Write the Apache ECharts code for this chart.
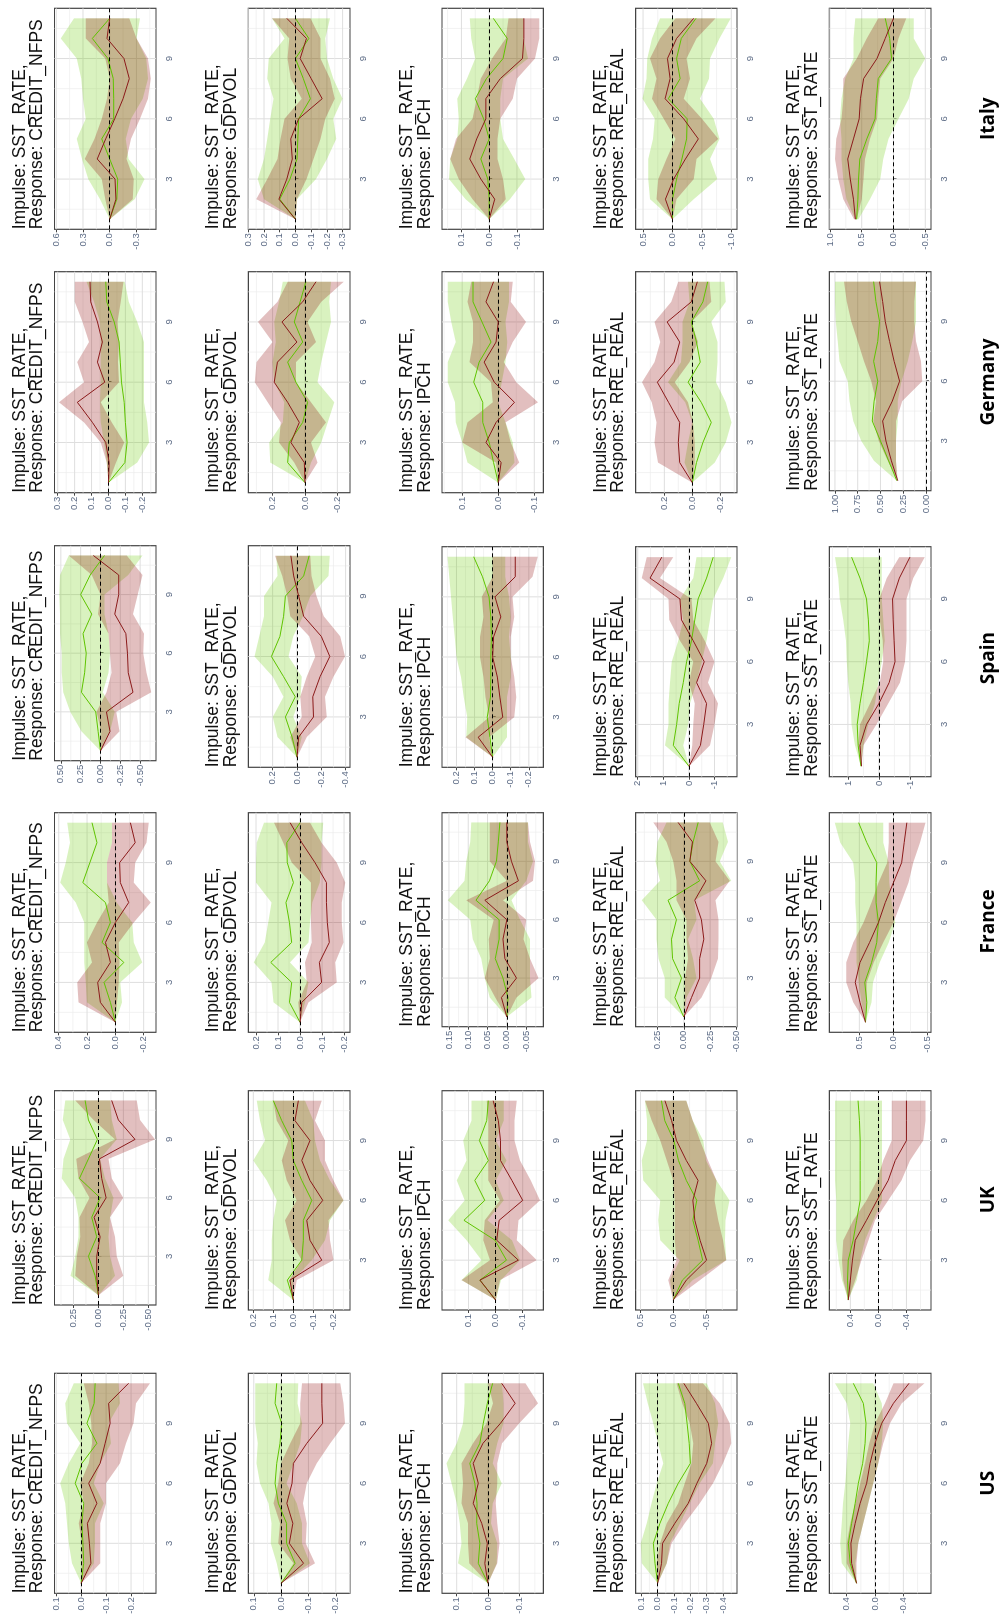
<!DOCTYPE html>
<html>
<head>
<meta charset="utf-8">
<script src="https://cdn.jsdelivr.net/npm/echarts@6.0.0/dist/echarts.min.js"></script>
<style>
  html, body { margin: 0; padding: 0; background: #fff; overflow: hidden; width: 1001px; height: 1624px; }
  /* the figure is drawn landscape and turned a quarter turn, like the scanned original */
  #chart { position: absolute; left: 0; top: 0; width: 1624px; height: 1001px;
           transform-origin: 0 0; transform: translate(0, 1624px) rotate(-90deg); }
</style>
</head>
<body>
<div id="chart"></div>
<script>
// horizons and labels
const steps = [1, 2, 3, 4, 5, 6, 7, 8, 9, 10, 11];
const stepTicks = [3, 6, 9];
const countries = ['US', 'UK', 'France', 'Spain', 'Germany', 'Italy'];
const responses = ['CREDIT_NFPS', 'GDPVOL', 'IPCH', 'RRE_REAL', 'SST_RATE'];

// rows: CREDIT_NFPS, GDPVOL, IPCH, RRE_REAL, SST_RATE
const usGreen = [
  [0, -0.01, -0.007, -0.003, -0.01, 0.024, -0.003, -0.063, -0.023, -0.052, -0.056],
  [0, -0.051, -0.02, -0.02, 0.01, 0.022, 0.016, 0.004, -0.002, 0.022, 0.016],
  [0, 0.031, 0.026, 0.036, 0.035, 0.042, 0.058, 0.026, 0.015, 0.002, -0.015],
  [0, 0.016, 0.026, -0.014, -0.065, -0.126, -0.2, -0.193, -0.18, -0.166, -0.126],
  [0.26, 0.35, 0.376, 0.33, 0.28, 0.235, 0.174, 0.14, 0.127, 0.165, 0.306]
];
const usGreenLo = [
  [0, -0.05, -0.055, -0.055, -0.09, -0.05, -0.076, -0.12, -0.11, -0.156, -0.15],
  [0, -0.106, -0.076, -0.076, -0.057, -0.02, -0.045, -0.07, -0.076, -0.06, -0.063],
  [0, -0.028, -0.03, -0.01, -0.015, -0.044, -0.015, -0.03, -0.05, -0.05, -0.045],
  [0, -0.055, -0.075, -0.136, -0.197, -0.258, -0.339, -0.35, -0.37, -0.35, -0.3],
  [0.26, 0.28, 0.235, 0.165, 0.094, 0.024, -0.047, -0.094, -0.118, -0.094, 0.024]
];
const usGreenHi = [
  [0, 0.037, 0.05, 0.057, 0.064, 0.084, 0.05, 0.004, 0.057, 0.064, 0.03],
  [0, 0.016, 0.038, 0.035, 0.046, 0.077, 0.09, 0.085, 0.095, 0.095, 0.095],
  [0, 0.096, 0.085, 0.09, 0.1, 0.117, 0.133, 0.1, 0.08, 0.075, 0.075],
  [0, 0.097, 0.103, 0.067, 0.037, 0.006, -0.034, -0.003, 0.026, 0.06, 0.09],
  [0.26, 0.47, 0.49, 0.47, 0.45, 0.42, 0.4, 0.376, 0.35, 0.4, 0.565]
];
const usRed = [
  [0, -0.039, -0.033, -0.025, -0.063, -0.03, -0.076, -0.096, -0.116, -0.11, -0.19],
  [0, -0.082, -0.03, -0.043, -0.021, -0.04, -0.045, -0.094, -0.152, -0.149, -0.149],
  [0, 0.01, 0.002, 0.02, 0.047, 0.031, 0.047, 0.016, -0.04, -0.087, -0.044],
  [0, -0.024, -0.03, -0.105, -0.187, -0.24, -0.3, -0.33, -0.31, -0.237, -0.16],
  [0.26, 0.33, 0.34, 0.28, 0.21, 0.118, 0.07, 0.0, -0.094, -0.26, -0.48]
];
const usRedLo = [
  [0, -0.076, -0.076, -0.076, -0.1, -0.1, -0.156, -0.18, -0.21, -0.22, -0.276],
  [0, -0.124, -0.09, -0.094, -0.08, -0.094, -0.13, -0.18, -0.234, -0.228, -0.216],
  [0, -0.03, -0.037, -0.03, -0.025, -0.03, -0.03, -0.045, -0.1, -0.16, -0.12],
  [0, -0.055, -0.085, -0.166, -0.258, -0.339, -0.4, -0.45, -0.44, -0.38, -0.278],
  [0.26, 0.26, 0.235, 0.165, 0.094, 0.024, -0.047, -0.118, -0.21, -0.376, -0.7]
];
const usRedHi = [
  [0, -0.003, -0.003, 0.01, -0.01, 0.004, -0.03, -0.043, -0.04, -0.03, -0.01],
  [0, -0.045, 0.01, 0.004, 0.028, 0.01, 0.0, -0.033, -0.07, -0.07, -0.076],
  [0, 0.06, 0.064, 0.064, 0.085, 0.08, 0.085, 0.048, 0.005, -0.016, 0.0],
  [0, 0.006, -0.014, -0.055, -0.126, -0.166, -0.207, -0.217, -0.197, -0.15, -0.116],
  [0.26, 0.4, 0.4, 0.35, 0.28, 0.21, 0.14, 0.08, 0.0, -0.14, -0.26]
];

const ukGreen = [
  [0, 0.033, 0.1, 0.017, 0.067, -0.017, 0.19, 0.1, 0.01, 0.1, 0.133],
  [0, 0.03, -0.042, -0.05, -0.05, -0.092, -0.042, 0.0, 0.008, 0.058, 0.1],
  [0, 0.058, -0.04, 0.002, 0.117, 0.04, 0.077, 0.027, 0.06, 0.033, 0.027],
  [0, -0.14, -0.45, -0.38, -0.3, -0.36, -0.2, -0.08, -0.01, 0.13, 0.18],
  [0.43, 0.44, 0.43, 0.36, 0.31, 0.26, 0.26, 0.26, 0.26, 0.27, 0.29]
];
const ukGreenLo = [
  [0, -0.167, -0.117, -0.1, -0.117, -0.15, -0.067, -0.017, -0.183, -0.133, -0.117],
  [0, 0.0, -0.092, -0.158, -0.183, -0.25, -0.183, -0.133, -0.108, -0.1, -0.058],
  [0, -0.02, -0.09, -0.06, 0.03, -0.03, 0.0, -0.04, 0.0, -0.03, -0.03],
  [0, -0.3, -0.81, -0.79, -0.8, -0.86, -0.66, -0.5, -0.46, -0.3, -0.2],
  [0.43, 0.31, 0.26, 0.19, 0.07, -0.05, -0.05, -0.05, -0.05, -0.05, -0.05]
];
const ukGreenHi = [
  [0, 0.28, 0.233, 0.2, 0.2, 0.233, 0.367, 0.35, 0.283, 0.357, 0.333],
  [0, 0.125, 0.108, 0.108, 0.1, 0.083, 0.133, 0.2, 0.142, 0.167, 0.183],
  [0, 0.126, 0.052, 0.108, 0.175, 0.114, 0.144, 0.108, 0.12, 0.089, 0.089],
  [0, 0.05, -0.1, 0.2, 0.23, 0.2, 0.46, 0.48, 0.4, 0.4, 0.43],
  [0.43, 0.52, 0.57, 0.6, 0.6, 0.6, 0.62, 0.62, 0.62, 0.62, 0.62]
];
const ukRed = [
  [0, 0.017, 0.017, -0.017, 0.043, -0.077, -0.033, -0.01, -0.367, -0.2, -0.133],
  [0, 0.017, -0.142, -0.083, -0.067, -0.147, -0.083, -0.042, -0.083, -0.008, -0.025],
  [0, 0.058, -0.084, -0.004, -0.013, -0.1, -0.06, -0.018, -0.018, -0.01, 0.009],
  [0, -0.2, -0.51, -0.41, -0.33, -0.3, -0.38, -0.2, -0.05, 0.025, 0.127],
  [0.43, 0.4, 0.37, 0.33, 0.17, 0.02, -0.14, -0.24, -0.4, -0.4, -0.4]
];
const ukRedLo = [
  [0, -0.25, -0.183, -0.167, -0.117, -0.25, -0.133, -0.1, -0.567, -0.417, -0.383],
  [0, -0.017, -0.2, -0.183, -0.175, -0.25, -0.2, -0.158, -0.158, -0.108, -0.142],
  [0, -0.016, -0.152, -0.078, -0.084, -0.164, -0.13, -0.09, -0.07, -0.07, -0.078],
  [0, -0.41, -0.81, -0.76, -0.69, -0.63, -0.66, -0.53, -0.41, -0.3, -0.2],
  [0.43, 0.33, 0.24, 0.14, 0.05, -0.14, -0.33, -0.45, -0.64, -0.67, -0.67]
];
const ukRedHi = [
  [0, 0.233, 0.217, 0.183, 0.19, 0.09, 0.2, 0.223, -0.167, 0.05, 0.233],
  [0, 0.02, -0.042, 0.017, 0.042, -0.017, 0.033, 0.058, 0.025, 0.083, 0.1],
  [0, 0.126, 0.021, 0.046, 0.04, -0.016, 0.027, 0.027, 0.027, 0.027, 0.033],
  [0, 0.076, -0.05, -0.025, -0.025, -0.025, 0.0, 0.1, 0.2, 0.33, 0.43],
  [0.43, 0.5, 0.52, 0.5, 0.36, 0.17, 0.02, -0.07, -0.19, -0.19, -0.19]
];

const franceGreen = [
  [0, 0.035, 0.08, -0.06, 0.094, 0.035, 0.07, 0.23, 0.18, 0.13, 0.165],
  [0, 0.048, 0.038, 0.133, 0.038, 0.048, 0.064, 0.03, 0.058, 0.06, 0.0],
  [0, -0.003, 0.01, 0.03, 0.02, 0.02, 0.08, 0.045, 0.027, 0.022, 0.018],
  [0, 0.085, 0.022, 0.107, 0.117, 0.07, 0.15, -0.15, -0.057, -0.088, -0.136],
  [0.41, 0.39, 0.42, 0.32, 0.245, 0.22, 0.255, 0.255, 0.245, 0.39, 0.51]
];
const franceGreenLo = [
  [0, -0.047, -0.035, -0.19, -0.13, -0.12, -0.01, 0.06, 0.06, 0.024, 0.024],
  [0, -0.023, -0.038, 0.045, -0.038, -0.045, -0.055, -0.09, -0.098, -0.098, -0.106],
  [0, -0.064, -0.06, -0.06, -0.06, -0.034, -0.012, -0.05, -0.068, -0.055, -0.055],
  [0, -0.025, -0.12, -0.088, -0.04, -0.12, -0.1, -0.45, -0.34, -0.42, -0.37],
  [0.41, 0.32, 0.3, 0.2, 0.07, -0.025, 0.025, 0.06, 0.07, 0.15, 0.15]
];
const franceGreenHi = [
  [0, 0.2, 0.21, 0.22, 0.22, 0.22, 0.28, 0.39, 0.35, 0.32, 0.34],
  [0, 0.12, 0.13, 0.21, 0.16, 0.144, 0.13, 0.2, 0.2, 0.197, 0.164],
  [0, 0.044, 0.057, 0.066, 0.088, 0.095, 0.153, 0.11, 0.105, 0.095, 0.092],
  [0, 0.18, 0.18, 0.24, 0.26, 0.26, 0.4, 0.227, 0.27, 0.25, 0.164],
  [0.41, 0.47, 0.51, 0.54, 0.54, 0.54, 0.56, 0.56, 0.59, 0.78, 0.86]
];
const franceRed = [
  [0, 0.106, 0.125, 0.035, 0.07, 0.0, -0.094, -0.035, -0.03, -0.14, -0.106],
  [0, -0.008, -0.098, -0.088, -0.133, -0.124, -0.12, -0.12, -0.068, -0.008, 0.045],
  [0, 0.014, -0.025, 0.005, 0.01, 0.0, 0.057, -0.03, -0.012, 0.0, 0.0],
  [0, -0.073, -0.15, -0.15, -0.19, -0.167, -0.104, -0.21, -0.057, -0.082, 0.054],
  [0.41, 0.49, 0.56, 0.49, 0.35, 0.22, 0.12, 0.0, -0.12, -0.157, -0.196]
];
const franceRedLo = [
  [0, -0.012, -0.024, -0.03, -0.024, -0.13, -0.25, -0.13, -0.14, -0.22, -0.235],
  [0, -0.038, -0.167, -0.16, -0.197, -0.19, -0.19, -0.205, -0.167, -0.098, -0.045],
  [0, -0.025, -0.082, -0.06, -0.043, -0.05, 0.01, -0.068, -0.073, -0.06, -0.055],
  [0, -0.167, -0.26, -0.325, -0.33, -0.33, -0.3, -0.435, -0.3, -0.33, -0.246],
  [0.41, 0.39, 0.39, 0.29, 0.15, 0.0, -0.11, -0.22, -0.29, -0.39, -0.47]
];
const franceRedHi = [
  [0, 0.26, 0.27, 0.165, 0.2, 0.13, 0.047, 0.06, 0.06, 0.024, 0.024],
  [0, 0.008, -0.03, -0.023, -0.053, -0.05, -0.05, -0.05, 0.038, 0.076, 0.118],
  [0, 0.03, 0.057, 0.044, 0.047, 0.034, 0.105, 0.0, 0.044, 0.044, 0.044],
  [0, -0.01, -0.01, -0.04, -0.025, -0.025, 0.07, 0.07, 0.1, 0.164, 0.29],
  [0.41, 0.59, 0.69, 0.69, 0.59, 0.44, 0.32, 0.22, 0.09, 0.07, 0.07]
];

const spainGreen = [
  [0, 0.03, 0.06, 0.24, 0.2, 0.18, 0.22, 0.11, 0.25, 0.13, -0.05],
  [0, 0.04, 0.095, 0.014, 0.11, 0.21, 0.14, 0.11, 0.095, -0.055, -0.1],
  [0, 0.015, 0.03, 0.012, 0.01, 0.01, 0.007, 0.01, 0.02, 0.056, 0.105],
  [0, 0.61, 0.48, 0.38, 0.22, 0.09, -0.1, -0.23, -0.36, -0.69, -0.95],
  [0.58, 0.67, 0.7, 0.61, 0.5, 0.4, 0.31, 0.34, 0.4, 0.61, 0.88]
];
const spainGreenLo = [
  [0, -0.12, -0.18, -0.03, -0.1, -0.12, -0.1, -0.05, -0.05, -0.35, -0.53],
  [0, -0.04, 0.03, -0.03, -0.04, 0.07, 0.03, -0.05, -0.11, -0.26, -0.27],
  [0, -0.08, -0.08, -0.08, -0.1, -0.1, -0.09, -0.1, -0.09, -0.07, -0.07],
  [0, 0.22, 0.03, -0.04, -0.3, -0.5, -0.69, -0.82, -0.95, -1.34, -1.66],
  [0.58, 0.5, 0.34, 0.13, 0.02, -0.09, -0.19, -0.14, -0.09, -0.09, -0.09]
];
const spainGreenHi = [
  [0, 0.24, 0.38, 0.47, 0.49, 0.49, 0.51, 0.51, 0.52, 0.51, 0.4],
  [0, 0.16, 0.2, 0.11, 0.2, 0.35, 0.31, 0.27, 0.27, 0.16, 0.17],
  [0, 0.146, 0.14, 0.16, 0.175, 0.2, 0.21, 0.22, 0.23, 0.24, 0.25],
  [0, 0.93, 0.8, 0.8, 0.74, 0.67, 0.42, 0.22, 0.35, -0.17, -0.3],
  [0.58, 0.77, 0.88, 0.91, 0.99, 1.04, 1.06, 1.15, 1.26, 1.31, 1.42]
];
const spainRed = [
  [0, -0.12, -0.075, -0.41, -0.35, -0.34, -0.32, -0.18, -0.23, -0.23, 0.09],
  [0, -0.014, -0.136, -0.13, -0.19, -0.27, -0.2, -0.055, -0.014, 0.027, 0.05],
  [0, 0.08, -0.056, -0.04, -0.026, 0.0, -0.005, -0.045, -0.013, -0.125, -0.125],
  [0, -0.45, -0.58, -0.69, -0.3, -0.6, -0.17, 0.29, 0.35, 1.52, 1.06],
  [0.56, 0.61, 0.4, 0.0, -0.33, -0.52, -0.49, -0.46, -0.44, -0.66, -1.0]
];
const spainRedLo = [
  [0, -0.24, -0.2, -0.64, -0.58, -0.54, -0.55, -0.41, -0.47, -0.53, -0.33],
  [0, -0.08, -0.245, -0.23, -0.3, -0.395, -0.355, -0.22, -0.16, -0.12, -0.11],
  [0, 0.02, -0.12, -0.13, -0.12, -0.1, -0.1, -0.12, -0.11, -0.22, -0.25],
  [0, -0.82, -1.0, -1.14, -0.75, -1.0, -0.62, -0.17, -0.1, 1.13, 0.61],
  [0.56, 0.5, 0.08, -0.3, -0.68, -0.84, -0.89, -0.89, -0.89, -1.11, -1.48]
];
const spainRedHi = [
  [0, -0.01, 0.05, -0.075, -0.14, -0.12, -0.1, 0.03, 0.0, 0.11, 0.4],
  [0, 0.055, -0.04, -0.027, -0.08, -0.15, -0.1, 0.055, 0.08, 0.12, 0.18],
  [0, 0.15, 0.02, 0.04, 0.05, 0.07, 0.07, 0.05, 0.06, 0.0, 0.0],
  [0, -0.13, -0.17, -0.23, 0.0, -0.17, 0.35, 0.77, 0.8, 1.84, 1.65],
  [0.56, 0.67, 0.61, 0.29, -0.03, -0.14, -0.12, -0.03, -0.01, -0.25, -0.66]
];

const germanyGreen = [
  [0, -0.097, -0.11, -0.1, -0.093, -0.077, -0.07, -0.063, -0.034, 0.01, 0.016],
  [0, 0.107, 0.097, 0.014, -0.016, 0.056, 0.107, 0.014, 0.066, 0.03, -0.006],
  [0, 0.013, 0.025, 0.043, 0.043, 0.068, 0.053, 0.02, 0.045, 0.07, 0.07],
  [0, -0.03, -0.076, -0.136, -0.064, 0.03, -0.057, -0.03, 0.007, -0.076, -0.11],
  [0.32, 0.41, 0.5, 0.59, 0.57, 0.53, 0.575, 0.53, 0.51, 0.55, 0.575]
];
const germanyGreenLo = [
  [0, -0.17, -0.24, -0.23, -0.21, -0.21, -0.21, -0.21, -0.17, -0.12, -0.097],
  [0, -0.037, -0.1, -0.14, -0.18, -0.078, -0.1, -0.13, -0.16, -0.15, -0.16],
  [0, -0.045, -0.04, -0.02, 0.0, -0.01, -0.02, -0.025, -0.02, -0.03, -0.03],
  [0, -0.16, -0.24, -0.28, -0.24, -0.17, -0.18, -0.18, -0.136, -0.24, -0.23],
  [0.32, 0.33, 0.33, 0.31, 0.31, 0.27, 0.2, 0.15, 0.11, 0.11, 0.11]
];
const germanyGreenHi = [
  [0, 0.01, 0.026, 0.045, 0.05, 0.045, 0.045, 0.045, 0.05, 0.085, 0.13],
  [0, 0.214, 0.22, 0.138, 0.128, 0.19, 0.2, 0.18, 0.19, 0.16, 0.138],
  [0, 0.085, 0.1, 0.118, 0.12, 0.14, 0.14, 0.118, 0.13, 0.14, 0.14],
  [0, 0.055, 0.03, 0.0, 0.05, 0.174, 0.08, 0.07, 0.07, 0.02, 0.03],
  [0.32, 0.57, 0.71, 0.8, 0.84, 0.86, 0.95, 0.97, 0.99, 1.0, 1.0]
];
const germanyRed = [
  [0, -0.004, 0.016, 0.095, 0.184, 0.022, 0.065, 0.036, 0.065, 0.105, 0.109],
  [0, 0.004, 0.087, 0.035, 0.107, 0.19, 0.17, 0.05, 0.142, 0.014, -0.068],
  [0, -0.008, 0.034, 0.006, -0.045, 0.011, 0.039, 0.006, 0.0, 0.034, 0.013],
  [0, 0.09, 0.1, 0.09, 0.17, 0.25, 0.13, 0.09, 0.18, 0.007, -0.036],
  [0.31, 0.38, 0.44, 0.476, 0.37, 0.29, 0.35, 0.4, 0.447, 0.476, 0.51]
];
const germanyRedLo = [
  [0, -0.045, -0.093, -0.02, 0.045, -0.063, -0.057, -0.063, -0.053, -0.073, -0.089],
  [0, -0.078, -0.037, -0.13, -0.037, 0.056, 0.056, -0.068, -0.016, -0.1, -0.24],
  [0, -0.058, -0.035, -0.02, -0.11, -0.05, -0.015, -0.04, -0.077, -0.035, -0.04],
  [0, -0.017, -0.017, -0.005, 0.03, 0.126, 0.02, -0.04, 0.007, -0.136, -0.124],
  [0.31, 0.33, 0.33, 0.33, 0.26, 0.04, 0.055, 0.11, 0.13, 0.13, 0.11]
];
const germanyRedHi = [
  [0, 0.01, 0.045, 0.145, 0.293, 0.145, 0.184, 0.115, 0.154, 0.2, 0.2],
  [0, 0.066, 0.16, 0.15, 0.23, 0.31, 0.3, 0.2, 0.29, 0.17, 0.107],
  [0, 0.006, 0.1, 0.085, 0.015, 0.02, 0.08, 0.07, 0.07, 0.085, 0.075],
  [0, 0.245, 0.27, 0.257, 0.29, 0.36, 0.27, 0.23, 0.27, 0.15, 0.1],
  [0.31, 0.42, 0.52, 0.58, 0.55, 0.6, 0.68, 0.75, 0.82, 0.87, 0.9]
];

const italyGreen = [
  [0, -0.08, -0.09, 0.0, 0.09, -0.045, -0.045, -0.04, 0.02, 0.195, 0.0],
  [0, 0.1, 0.035, -0.01, -0.015, -0.02, -0.095, -0.05, 0.0, -0.085, 0.0],
  [0, 0.0, 0.005, 0.03, 0.0, 0.02, 0.05, 0.01, -0.05, -0.065, -0.015],
  [0, 0.0, -0.07, -0.16, -0.24, -0.25, 0.07, -0.13, -0.07, -0.15, -0.4],
  [0.58, 0.56, 0.55, 0.53, 0.42, 0.29, 0.27, 0.24, 0.03, 0.06, 0.13]
];
const italyGreenLo = [
  [0, -0.28, -0.39, -0.21, -0.18, -0.24, -0.37, -0.43, -0.41, -0.3, -0.34],
  [0, -0.01, -0.13, -0.2, -0.26, -0.24, -0.3, -0.24, -0.2, -0.19, -0.22],
  [0, -0.075, -0.13, -0.09, -0.05, -0.04, -0.04, -0.05, -0.14, -0.125, -0.125],
  [0, -0.36, -0.76, -0.64, -0.8, -0.7, -0.47, -0.62, -0.64, -0.8, -0.99],
  [0.55, 0.37, 0.21, 0.16, 0.08, -0.08, -0.24, -0.32, -0.5, -0.32, -0.32]
];
const italyGreenHi = [
  [0, 0.11, 0.24, 0.31, 0.37, 0.27, 0.3, 0.32, 0.37, 0.55, 0.4],
  [0, 0.2, 0.24, 0.2, 0.18, 0.16, 0.14, 0.18, 0.17, 0.07, 0.15],
  [0, 0.085, 0.145, 0.14, 0.115, 0.11, 0.115, 0.08, 0.05, 0.065, 0.07],
  [0, 0.38, 0.41, 0.41, 0.33, 0.3, 0.51, 0.44, 0.43, 0.35, 0.21],
  [0.6, 0.74, 0.79, 0.82, 0.82, 0.84, 0.82, 0.76, 0.63, 0.63, 0.6]
];
const italyRed = [
  [0, -0.07, -0.06, 0.14, 0.045, -0.056, -0.15, -0.22, -0.16, 0.03, 0.0],
  [0, 0.105, 0.055, 0.02, 0.03, -0.02, -0.17, -0.1, -0.03, -0.07, 0.055],
  [0, -0.02, 0.03, 0.07, 0.045, 0.012, 0.012, -0.04, -0.12, -0.125, -0.125],
  [0, 0.12, -0.02, -0.22, -0.44, -0.19, 0.125, 0.04, 0.085, -0.07, -0.36],
  [0.6, 0.63, 0.68, 0.72, 0.63, 0.54, 0.52, 0.47, 0.26, 0.13, 0.0]
];
const italyRedLo = [
  [0, -0.26, -0.27, -0.19, -0.24, -0.34, -0.43, -0.46, -0.43, -0.3, -0.22],
  [0, -0.01, -0.07, -0.115, -0.16, -0.19, -0.25, -0.22, -0.16, -0.16, -0.095],
  [0, -0.06, -0.05, -0.03, -0.03, -0.04, -0.085, -0.1, -0.165, -0.18, -0.18],
  [0, -0.07, -0.36, -0.41, -0.78, -0.5, -0.19, -0.3, -0.24, -0.41, -0.73],
  [0.58, 0.5, 0.47, 0.45, 0.37, 0.26, 0.24, 0.21, 0.0, -0.08, -0.2]
];
const italyRedHi = [
  [0, 0.05, 0.09, 0.28, 0.17, 0.09, 0.03, 0.0, 0.05, 0.27, 0.27],
  [0, 0.25, 0.18, 0.115, 0.095, 0.07, -0.04, 0.03, 0.05, 0.04, 0.15],
  [0, 0.06, 0.11, 0.14, 0.12, 0.06, 0.045, 0.03, -0.01, -0.06, -0.07],
  [0, 0.27, 0.24, 0.1, -0.05, 0.15, 0.35, 0.27, 0.38, 0.21, -0.05],
  [0.62, 0.79, 0.87, 0.92, 0.9, 0.82, 0.79, 0.79, 0.58, 0.42, 0.24]
];

// value axis of each panel: [min, max], tick values, decimals on the labels
const axisRange = [
  [[-0.3, 0.107], [-0.252, 0.12], [-0.177, 0.147], [-0.485, 0.134], [-0.79, 0.645]],
  [[-0.577, 0.44], [-0.283, 0.225], [-0.176, 0.198], [-0.975, 0.574], [-0.75, 0.7]],
  [[-0.287, 0.43], [-0.227, 0.235], [-0.0945, 0.168], [-0.505, 0.457], [-0.55, 0.94]],
  [[-0.7, 0.58], [-0.436, 0.4], [-0.28, 0.28], [-1.88, 2.08], [-1.68, 1.6]],
  [[-0.281, 0.319], [-0.278, 0.35], [-0.125, 0.156], [-0.32, 0.405], [-0.055, 1.062]],
  [[-0.52, 0.62], [-0.347, 0.3], [-0.195, 0.17], [-1.097, 0.625], [-0.59, 1.01]]
];
const axisTicks = [
  [[-0.2, -0.1, 0, 0.1], [-0.2, -0.1, 0, 0.1], [-0.1, 0, 0.1], [-0.4, -0.3, -0.2, -0.1, 0, 0.1], [-0.4, 0, 0.4]],
  [[-0.5, -0.25, 0, 0.25], [-0.2, -0.1, 0, 0.1, 0.2], [-0.1, 0, 0.1], [-0.5, 0, 0.5], [-0.4, 0, 0.4]],
  [[-0.2, 0, 0.2, 0.4], [-0.2, -0.1, 0, 0.1, 0.2], [-0.05, 0, 0.05, 0.1, 0.15], [-0.5, -0.25, 0, 0.25], [-0.5, 0, 0.5]],
  [[-0.5, -0.25, 0, 0.25, 0.5], [-0.4, -0.2, 0, 0.2], [-0.2, -0.1, 0, 0.1, 0.2], [-1, 0, 1, 2], [-1, 0, 1]],
  [[-0.2, -0.1, 0, 0.1, 0.2, 0.3], [-0.2, 0, 0.2], [-0.1, 0, 0.1], [-0.2, 0, 0.2], [0, 0.25, 0.5, 0.75, 1]],
  [[-0.3, 0, 0.3, 0.6], [-0.3, -0.2, -0.1, 0, 0.1, 0.2, 0.3], [-0.1, 0, 0.1], [-1, -0.5, 0, 0.5], [-0.5, 0, 0.5, 1]]
];
const axisDigits = [
  [1, 1, 1, 1, 1],
  [2, 1, 1, 1, 1],
  [1, 1, 2, 2, 1],
  [2, 1, 1, 0, 0],
  [1, 1, 1, 1, 2],
  [1, 1, 1, 1, 1]
];

// ---- layout (landscape figure, before the quarter turn) ----
const panelLeft = [
  [30.7, 30.7, 30.7, 30.7, 30.7],
  [319, 314, 314, 314, 314],
  [591.7, 591.7, 597.3, 597.3, 591.7],
  [863.3, 856.7, 856.7, 847.3, 847.3],
  [1131.3, 1131.3, 1131.3, 1131.3, 1133.3],
  [1394.7, 1394.7, 1394.7, 1394.7, 1394.7]
];
const panelWidth = [
  [220, 220, 220, 220, 220],
  [214.3, 219.3, 219.3, 219.3, 219.3],
  [219.6, 219.6, 214, 214, 219.6],
  [215, 221.6, 220.6, 230, 230],
  [221, 221, 221, 221, 219],
  [221, 221, 221, 221, 221]
];
const panelTop = [54.5, 248.3, 442, 635.7, 829.3];
const panelHeight = [101.5, 101.7, 101.3, 101.3, 101.7];

const GREEN = '#5fc400';
const RED = '#8b1a1a';
const GREEN_FILL = 'rgba(102,205,0,0.25)';
const RED_FILL = 'rgba(139,0,0,0.25)';
const TICK_TEXT = '#5d6c86';
const FONT = '"Liberation Sans", Arial, sans-serif';

const bySeries = {
  US: [usGreen, usGreenLo, usGreenHi, usRed, usRedLo, usRedHi],
  UK: [ukGreen, ukGreenLo, ukGreenHi, ukRed, ukRedLo, ukRedHi],
  France: [franceGreen, franceGreenLo, franceGreenHi, franceRed, franceRedLo, franceRedHi],
  Spain: [spainGreen, spainGreenLo, spainGreenHi, spainRed, spainRedLo, spainRedHi],
  Germany: [germanyGreen, germanyGreenLo, germanyGreenHi, germanyRed, germanyRedLo, germanyRedHi],
  Italy: [italyGreen, italyGreenLo, italyGreenHi, italyRed, italyRedLo, italyRedHi]
};

function pairs(vals) {
  return steps.map((t, i) => [t, vals[i]]);
}

function bandSeries(gi, lo, hi, fill, z) {
  return {
    type: 'custom', xAxisIndex: gi, yAxisIndex: gi, z: z, silent: true,
    data: [[steps[0], lo[0]]],
    renderItem: (params, api) => {
      const pts = [];
      for (let i = 0; i < steps.length; i++) pts.push(api.coord([steps[i], hi[i]]));
      for (let i = steps.length - 1; i >= 0; i--) pts.push(api.coord([steps[i], lo[i]]));
      return { type: 'polygon', shape: { points: pts }, style: { fill: fill } };
    }
  };
}

function gridLineSeries(gi, ticks, range) {
  // [direction (0 = time, 1 = value), position, major?]
  const lines = [];
  [1.5, 4.5, 7.5, 10.5].forEach(v => lines.push([0, v, 0]));
  stepTicks.forEach(v => lines.push([0, v, 1]));
  const half = (ticks[1] - ticks[0]) / 2;
  const minors = [ticks[0] - half].concat(ticks.map(v => v + half));
  minors.forEach(v => { if (v > range[0] && v < range[1]) lines.push([1, v, 0]); });
  ticks.forEach(v => lines.push([1, v, 1]));
  return {
    type: 'custom', xAxisIndex: gi, yAxisIndex: gi, z: 1, silent: true,
    data: lines,
    renderItem: (params, api) => {
      const cs = params.coordSys;
      const dir = api.value(0), v = api.value(1), major = api.value(2);
      let shape;
      if (dir === 0) {
        const px = api.coord([v, 0])[0];
        shape = { x1: px, y1: cs.y, x2: px, y2: cs.y + cs.height };
      } else {
        const py = api.coord([1, v])[1];
        shape = { x1: cs.x, y1: py, x2: cs.x + cs.width, y2: py };
      }
      return {
        type: 'line', shape: shape,
        style: { stroke: major ? '#dedede' : '#ececec', lineWidth: major ? 1 : 0.7 }
      };
    }
  };
}

const option = {
  animation: false,
  backgroundColor: '#ffffff',
  title: [], grid: [], xAxis: [], yAxis: [], series: [], graphic: []
};

countries.forEach((country, ci) => {
  const [g, gLo, gHi, r, rLo, rHi] = bySeries[country];
  responses.forEach((resp, ri) => {
    const gi = option.grid.length;
    const left = panelLeft[ci][ri], top = panelTop[ri];
    const range = axisRange[ci][ri], ticks = axisTicks[ci][ri], digits = axisDigits[ci][ri];

    option.grid.push({
      left: left, top: top, width: panelWidth[ci][ri], height: panelHeight[ri],
      show: true, borderColor: '#444', borderWidth: 1.2, backgroundColor: '#fff'
    });
    option.title.push({
      text: 'Impulse: SST_RATE,\nResponse: ' + resp,
      left: left, top: top - 43.5, padding: 0,
      textStyle: { fontFamily: FONT, fontSize: 17.5, fontWeight: 'normal', lineHeight: 17.5, color: '#111' }
    });
    option.xAxis.push({
      gridIndex: gi, type: 'value', min: 0.5, max: 11.5,
      axisLine: { show: false }, splitLine: { show: false },
      axisTick: { show: true, length: 3, customValues: stepTicks, lineStyle: { color: '#444', width: 1 } },
      axisLabel: { customValues: stepTicks, fontSize: 9.5, color: TICK_TEXT, margin: 8, fontFamily: FONT }
    });
    option.yAxis.push({
      gridIndex: gi, type: 'value', min: range[0], max: range[1],
      axisLine: { show: false }, splitLine: { show: false },
      axisTick: { show: true, length: 3, customValues: ticks, lineStyle: { color: '#444', width: 1 } },
      axisLabel: {
        customValues: ticks, fontSize: 9.5, color: TICK_TEXT, margin: 4, fontFamily: FONT,
        formatter: v => Number(v).toFixed(digits)
      }
    });

    option.series.push(gridLineSeries(gi, ticks, range));
    option.series.push(bandSeries(gi, gLo[ri], gHi[ri], GREEN_FILL, 2));
    option.series.push(bandSeries(gi, rLo[ri], rHi[ri], RED_FILL, 3));
    option.series.push({
      type: 'line', xAxisIndex: gi, yAxisIndex: gi, z: 4, silent: true,
      data: pairs(g[ri]), symbol: 'none', lineStyle: { color: GREEN, width: 1 }
    });
    option.series.push({
      type: 'line', xAxisIndex: gi, yAxisIndex: gi, z: 5, silent: true,
      data: pairs(r[ri]), symbol: 'none', lineStyle: { color: RED, width: 1 },
      markLine: {
        silent: true, symbol: ['none', 'none'], label: { show: false },
        lineStyle: { color: '#000', type: [4, 3], width: 1 },
        data: [{ yAxis: 0 }]
      }
    });
  });

  // country name under its column
  let cx = 0;
  responses.forEach((resp, ri) => { cx += panelLeft[ci][ri] + panelWidth[ci][ri] / 2; });
  option.graphic.push({
    type: 'text', x: cx / responses.length, y: 989, silent: true,
    style: {
      text: country, align: 'center', verticalAlign: 'middle',
      font: 'bold 19px "Open Sans", "DejaVu Sans", sans-serif', fill: '#000'
    }
  });
});

const chart = echarts.init(document.getElementById('chart'), null, { renderer: 'canvas', width: 1624, height: 1001 });
chart.setOption(option);
</script>
</body>
</html>
